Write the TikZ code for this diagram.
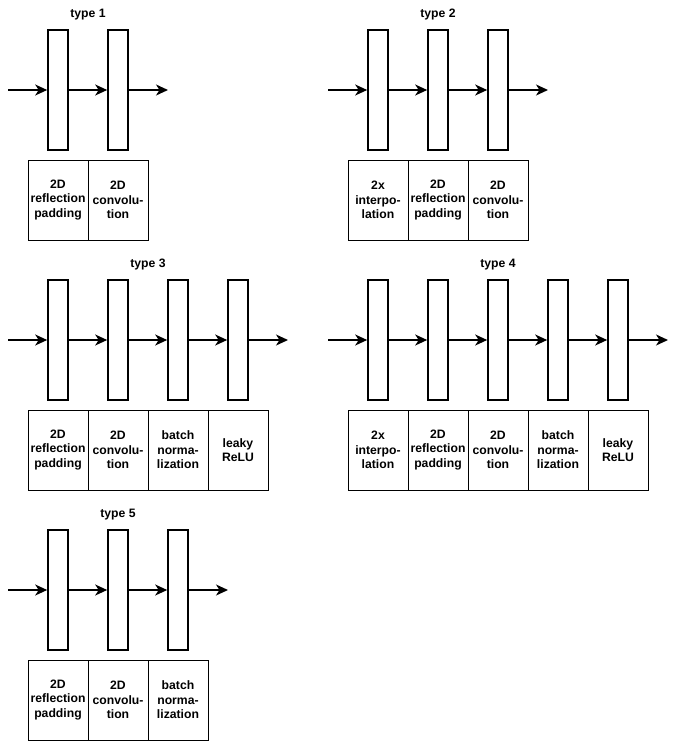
\documentclass[tikz,border=0pt]{standalone}
\usepackage{fontspec}
\setmainfont{Liberation Sans}
\usetikzlibrary{arrows.meta}
\tikzset{
  layer/.style={draw, line width=1.6pt, minimum width=20pt, minimum height=120pt, inner sep=0pt},
  lab/.style={draw, line width=0.9pt, minimum width=60pt, minimum height=80pt, inner sep=0pt, align=center,
    font=\bfseries\fontsize{12.2}{14.5}\selectfont},
  ttl/.style={font=\bfseries\fontsize{12.2}{14}\selectfont, inner sep=0pt},
  arr/.style={line width=1.4pt, -{Stealth[length=12pt,width=11pt,inset=3.5pt]}}
}
\newcommand\blockrow[5]{%
  \coordinate (#1s) at ({#2-20},{#3+60});
  \foreach \t [count=\i] in {#5} {
    \node[layer] (#1r\i) at ({#2+60*\i-30},{#3+60}) {};
    \node[lab] (#1l\i) at ({#2+60*\i-30},{#3+170}) {\t};
    \ifnum\i=1
      \draw[arr] (#1s) -- (#1r1);
    \else
      \pgfmathtruncatemacro\prv{\i-1}
      \draw[arr] (#1r\prv) -- (#1r\i);
    \fi
    \xdef\nlast{\i}
  }
  \coordinate (#1e) at ({#2+60*\nlast+20},{#3+60});
  \draw[arr] (#1r\nlast) -- (#1e);
  \node[ttl] (#1t) at ({#2+30*\nlast},{#3-15}) {#4};
}
\begin{document}
\begin{tikzpicture}[x=1pt,y=-1pt]
\useasboundingbox (0,0) rectangle (677,741);
\blockrow{a}{28}{30}{type 1}{{2D\\reflection\\padding},{2D\\convolu-\\tion}}
\blockrow{b}{348}{30}{type 2}{{2x\\interpo-\\lation},{2D\\reflection\\padding},{2D\\convolu-\\tion}}
\blockrow{c}{28}{280}{type 3}{{2D\\reflection\\padding},{2D\\convolu-\\tion},{batch\\norma-\\lization},{leaky\\ReLU}}
\blockrow{d}{348}{280}{type 4}{{2x\\interpo-\\lation},{2D\\reflection\\padding},{2D\\convolu-\\tion},{batch\\norma-\\lization},{leaky\\ReLU}}
\blockrow{e}{28}{530}{type 5}{{2D\\reflection\\padding},{2D\\convolu-\\tion},{batch\\norma-\\lization}}
\end{tikzpicture}
\end{document}
